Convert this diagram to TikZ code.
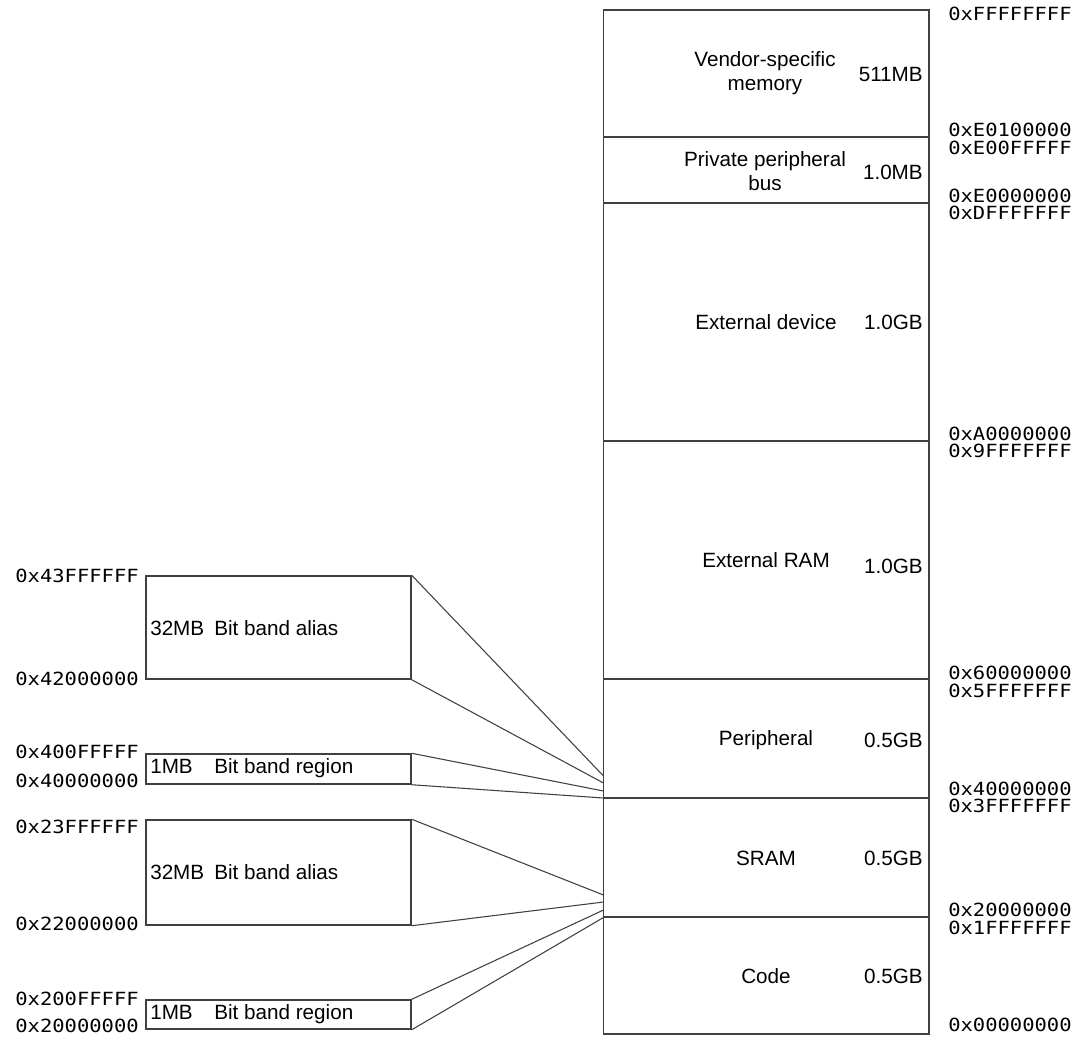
\documentclass[tikz,border=0pt]{standalone}
\usepackage{fontspec}
\setmainfont{Liberation Sans}
\newfontfamily\addrfont[FakeStretch=1.13]{DejaVu Sans Mono}
\begin{document}
\begin{tikzpicture}[x=0.75pt,y=-0.75pt,
  region/.style={draw=black!75,line width=1.1pt,inner sep=0pt,minimum width=244.1pt},
  bandbox/.style={draw=black!75,line width=1.1pt,inner sep=0pt,minimum width=198.75pt},
  regname/.style={font=\fontsize{15.5}{17.5}\selectfont,align=center,inner sep=0pt},
  regsize/.style={font=\fontsize{15.5}{17}\selectfont,anchor=east,inner sep=0pt},
  addr/.style={font=\addrfont\fontsize{13.6}{16}\selectfont,anchor=west,inner sep=0pt},
  laddr/.style={font=\addrfont\fontsize{13.6}{16}\selectfont,anchor=east,inner sep=0pt},
  bandtxt/.style={font=\fontsize{15.5}{17}\selectfont,anchor=west,inner sep=0pt},
  link/.style={draw=black!75,line width=0.8pt}]
\useasboundingbox (0,0) rectangle (1074,1036);

% memory map column
\node[region,minimum height=95.25pt] (vendor) at (766.25,73.5) {};
\node[region,minimum height=49.5pt]  (ppb)    at (766.25,170) {};
\node[region,minimum height=178.5pt] (extdev) at (766.25,322) {};
\node[region,minimum height=178.5pt] (extram) at (766.25,560) {};
\node[region,minimum height=89.25pt] (periph) at (766.25,738.5) {};
\node[region,minimum height=89.25pt] (sram)   at (766.25,857.5) {};
\node[region,minimum height=87.75pt] (code)   at (766.25,975.5) {};

% region names and sizes
\node[regname] (vendorname) at (765,73) {Vendor-specific\\memory};
\node[regsize] (vendorsize) at (923,74) {511MB};
\node[regname] (ppbname) at (765,171) {Private peripheral\\bus};
\node[regsize] (ppbsize) at (923,172) {1.0MB};
\node[regname] (extdevname) at (766,322) {External device};
\node[regsize] (extdevsize) at (923,322) {1.0GB};
\node[regname] (extramname) at (766,560) {External RAM};
\node[regsize] (extramsize) at (923,566) {1.0GB};
\node[regname] (periphname) at (766,740) {Peripheral};
\node[regsize] (periphsize) at (923,740) {0.5GB};
\node[regname] (sramname) at (766,858) {SRAM};
\node[regsize] (sramsize) at (923,858) {0.5GB};
\node[regname] (codename) at (766,976) {Code};
\node[regsize] (codesize) at (923,976) {0.5GB};

% boundary addresses
\node[addr] (a1) at (948,14) {0xFFFFFFFF};
\node[addr] (a2) at (948,130) {0xE0100000};
\node[addr] (a3) at (948,148) {0xE00FFFFF};
\node[addr] (a4) at (948,196) {0xE0000000};
\node[addr] (a5) at (948,213) {0xDFFFFFFF};
\node[addr] (a6) at (948,434) {0xA0000000};
\node[addr] (a7) at (948,451) {0x9FFFFFFF};
\node[addr] (a8) at (948,673) {0x60000000};
\node[addr] (a9) at (948,691) {0x5FFFFFFF};
\node[addr] (a10) at (948,789) {0x40000000};
\node[addr] (a11) at (948,806) {0x3FFFFFFF};
\node[addr] (a12) at (948,910) {0x20000000};
\node[addr] (a13) at (948,928) {0x1FFFFFFF};
\node[addr] (a14) at (948,1025) {0x00000000};

% bit-band boxes
\node[bandbox,minimum height=77.25pt] (alias1)  at (278.5,627.5) {};
\node[bandbox,minimum height=22.5pt]  (region1) at (278.5,769) {};
\node[bandbox,minimum height=78.75pt] (alias2)  at (278.5,872.5) {};
\node[bandbox,minimum height=21.75pt] (region2) at (278.5,1014.5) {};

\node[bandtxt] (alias1txt)  at (150,628) {\makebox[48pt][l]{32MB}Bit band alias};
\node[bandtxt] (region1txt) at (150,768) {\makebox[48pt][l]{1MB}Bit band region};
\node[bandtxt] (alias2txt)  at (150,872) {\makebox[48pt][l]{32MB}Bit band alias};
\node[bandtxt] (region2txt) at (150,1014) {\makebox[48pt][l]{1MB}Bit band region};

\node[laddr] (l1) at (139,576) {0x43FFFFFF};
\node[laddr] (l2) at (139,679) {0x42000000};
\node[laddr] (l3) at (139,752) {0x400FFFFF};
\node[laddr] (l4) at (139,781) {0x40000000};
\node[laddr] (l5) at (139,827) {0x23FFFFFF};
\node[laddr] (l6) at (139,924) {0x22000000};
\node[laddr] (l7) at (139,999) {0x200FFFFF};
\node[laddr] (l8) at (139,1026) {0x20000000};

% where the fans meet the memory column
\coordinate (p1) at (603.5,776);
\coordinate (p2) at (603.5,783);
\coordinate (p3) at (603.5,791);
\coordinate (p4) at (603.5,798);
\coordinate (s1) at (603.5,895);
\coordinate (s2) at (603.5,902);
\coordinate (s3) at (603.5,910);
\coordinate (s4) at (603.5,917.5);

\draw[link] (alias1.north east) -- (p1);
\draw[link] (alias1.south east) -- (p2);
\draw[link] (region1.north east) -- (p3);
\draw[link] (region1.south east) -- (p4);
\draw[link] (alias2.north east) -- (s1);
\draw[link] (alias2.south east) -- (s2);
\draw[link] (region2.north east) -- (s3);
\draw[link] (region2.south east) -- (s4);
\end{tikzpicture}
\end{document}
